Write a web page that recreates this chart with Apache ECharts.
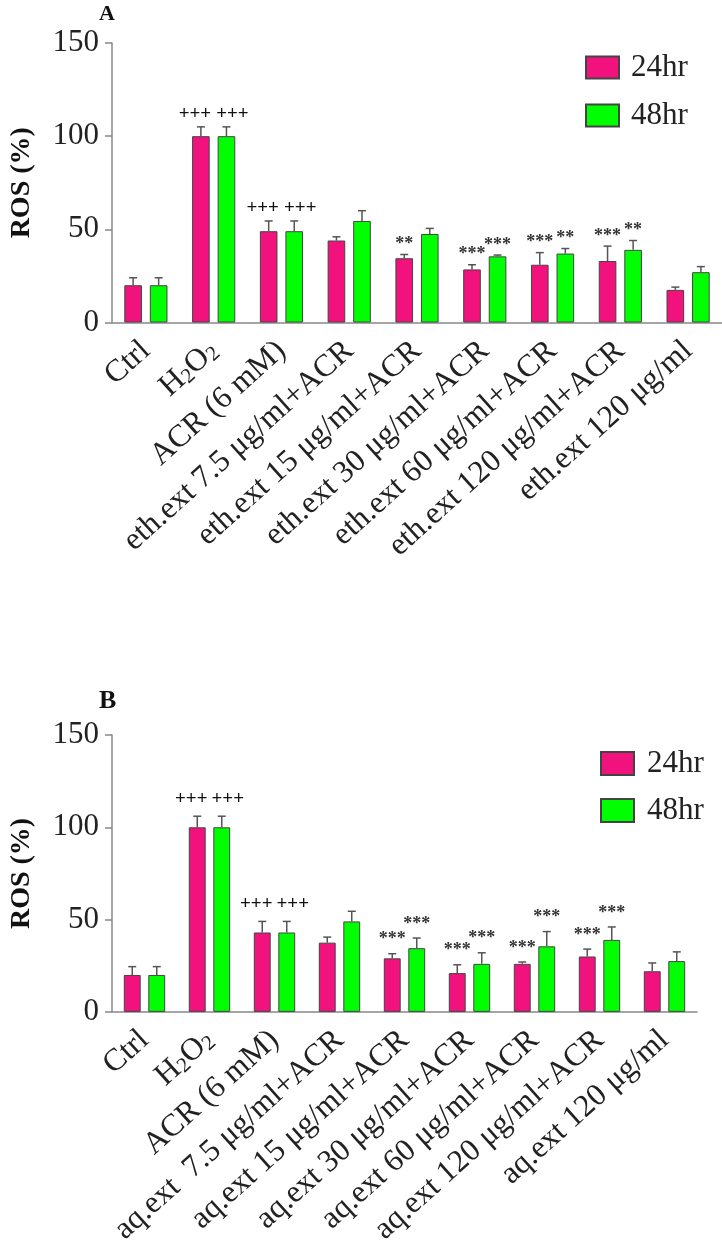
<!DOCTYPE html>
<html><head><meta charset="utf-8">
<script src="https://cdn.jsdelivr.net/npm/echarts@6/dist/echarts.min.js"></script>
<style>html,body{margin:0;padding:0;background:#fff}#c{width:722px;height:1248px}</style>
</head><body><div id="c"></div>
<script>
// ---------- data ----------
const categoriesA = ['Ctrl', 'H2O2', 'ACR (6 mM)', 'eth.ext 7.5 μg/ml+ACR', 'eth.ext 15 μg/ml+ACR', 'eth.ext 30 μg/ml+ACR', 'eth.ext 60 μg/ml+ACR', 'eth.ext 120 μg/ml+ACR', 'eth.ext 120 μg/ml'];
const categoriesB = ['Ctrl', 'H2O2', 'ACR (6 mM)', 'aq.ext  7.5 μg/ml+ACR', 'aq.ext 15 μg/ml+ACR', 'aq.ext 30 μg/ml+ACR', 'aq.ext 60 μg/ml+ACR', 'aq.ext 120 μg/ml+ACR', 'aq.ext 120 μg/ml'];
const seriesNames = ['24hr', '48hr'];
const yTicks = [0, 50, 100, 150];

const a24 = [20, 100, 49, 44, 34.5, 28.5, 31, 33, 17.5];
const a24err = [4, 5, 5.5, 2, 2, 2.5, 6.5, 8, 1.5];
const a48 = [20, 100, 49, 54.5, 47.5, 35.5, 37, 39, 27];
const a48err = [4, 5, 5.5, 5.5, 3, 0.7, 2.7, 5, 3];
const a24sig = ['', '+++', '+++', '', '**', '***', '***', '***', ''];
const a48sig = ['', '+++', '+++', '', '', '***', '**', '**', ''];

const b24 = [20, 100, 43, 37.5, 29, 21, 26, 30, 22];
const b24err = [4.5, 6, 6, 3, 2.5, 4.5, 1, 4, 4.5];
const b48 = [20, 100, 43, 49, 34.5, 26, 35.5, 39, 27.5];
const b48err = [4.5, 6, 6, 5.5, 5.5, 6, 8, 7, 5];
const b24sig = ['', '+++', '+++', '', '***', '***', '***', '***', ''];
const b48sig = ['', '+++', '+++', '', '***', '***', '***', '***', ''];

// ---------- style ----------
const PINK = '#F2127E', GREEN = '#00FF00';
const BAR_W = 0.26, BAR_GAP = 0.45;
const SERIF = 'Liberation Serif';

function labelFmt(v) {
  if (v === 'H2O2') return '{n|H}{s|2}{n|O}{s|2}';
  return '{n|' + v + '}';
}
const richLbl = {
  n: {fontFamily: SERIF, fontSize: 31.5, color: '#222', verticalAlign: 'bottom'},
  s: {fontFamily: SERIF, fontSize: 21, color: '#222', verticalAlign: 'bottom'}
};

function errRender(sign, sig, annOffset) {
  return function (params, api) {
    const i = api.value(0), v = api.value(1), e = api.value(2);
    const base = api.coord([i, v]);
    const band = api.size([1, 0])[0];
    const x = base[0] + sign * band * BAR_W * (1 + BAR_GAP) / 2;
    const yTop = api.coord([i, v + e])[1];
    const st = {stroke: '#555', lineWidth: 1.5};
    const ch = [
      {type: 'line', shape: {x1: x, y1: base[1], x2: x, y2: yTop}, style: st},
      {type: 'line', shape: {x1: x - 4, y1: yTop, x2: x + 4, y2: yTop}, style: st}
    ];
    const t = sig[i];
    if (t) {
      const plus = t.charAt(0) === '+';
      ch.push({
        type: 'text', x: x + (plus ? sign * 6 : 0), y: yTop - annOffset + (plus ? 0 : 3),
        style: {
          text: t, align: 'center', verticalAlign: 'middle',
          fontFamily: SERIF, fontSize: plus ? 19 : 18, fontWeight: 'bold',
          fill: plus ? '#111' : '#333'
        }
      });
    }
    return {type: 'group', children: ch};
  };
}

function xAx(gi, cats) {
  return {
    type: 'category', gridIndex: gi, data: cats,
    axisLine: {lineStyle: {color: '#888', width: 1.5}},
    axisTick: {show: false},
    axisLabel: {rotate: 42, margin: 24, interval: 0, formatter: labelFmt, rich: richLbl}
  };
}
function yAx(gi) {
  return {
    type: 'value', gridIndex: gi, min: yTicks[0], max: yTicks[yTicks.length - 1], interval: yTicks[1] - yTicks[0],
    name: 'ROS (%)', nameLocation: 'middle', nameGap: 76, nameRotate: 90,
    nameTextStyle: {fontFamily: SERIF, fontWeight: 'bold', fontSize: 28, color: '#111'},
    splitLine: {show: false},
    axisLine: {show: true, lineStyle: {color: '#888', width: 1.5}},
    axisTick: {show: true, length: 7, lineStyle: {color: '#888', width: 1.5}},
    axisLabel: {fontFamily: SERIF, fontSize: 31, color: '#222', margin: 13}
  };
}
function barS(gi, name, data, color) {
  return {
    type: 'bar', name: name, xAxisIndex: gi, yAxisIndex: gi, data: data,
    barWidth: (BAR_W * 100) + '%', barGap: (BAR_GAP * 100) + '%',
    itemStyle: {color: color, borderColor: '#444', borderWidth: 1}
  };
}
function errS(gi, vals, errs, sig, sign, off) {
  return {
    type: 'custom', name: 'err', xAxisIndex: gi, yAxisIndex: gi, z: 5,
    renderItem: errRender(sign, sig, off),
    data: vals.map((v, i) => [i, v, errs[i]])
  };
}

const option = {
  backgroundColor: '#fff',
  animation: false,
  title: [
    {text: 'A', left: 99, top: 3, padding: 0, textStyle: {fontFamily: SERIF, fontWeight: 'bold', fontSize: 22, color: '#111'}},
    {text: 'B', left: 99, top: 688, padding: 0, textStyle: {fontFamily: SERIF, fontWeight: 'bold', fontSize: 26, color: '#111'}}
  ],
  grid: [
    {left: 111, right: 0, top: 43, height: 279.5},
    {left: 111, right: 25, top: 735, height: 277}
  ],
  legend: [
    {data: seriesNames, orient: 'vertical', left: 580, top: 47, itemWidth: 33, itemHeight: 22, itemGap: 17, icon: 'rect',
     textStyle: {fontFamily: SERIF, fontSize: 31, color: '#222', padding: [0, 0, 0, 7]}},
    {data: seriesNames, orient: 'vertical', left: 595, top: 743, itemWidth: 33, itemHeight: 23, itemGap: 16, icon: 'rect',
     textStyle: {fontFamily: SERIF, fontSize: 31, color: '#222', padding: [0, 0, 0, 8]}}
  ],
  xAxis: [xAx(0, categoriesA), xAx(1, categoriesB)],
  yAxis: [yAx(0), yAx(1)],
  series: [
    barS(0, seriesNames[0], a24, PINK),
    barS(0, seriesNames[1], a48, GREEN),
    barS(1, seriesNames[0], b24, PINK),
    barS(1, seriesNames[1], b48, GREEN),
    errS(0, a24, a24err, a24sig, -1, 13),
    errS(0, a48, a48err, a48sig, 1, 13),
    errS(1, b24, b24err, b24sig, -1, 17),
    errS(1, b48, b48err, b48sig, 1, 17)
  ]
};
const chart = echarts.init(document.getElementById('c'), null, {renderer: 'canvas'});
chart.setOption(option);
</script></body></html>
